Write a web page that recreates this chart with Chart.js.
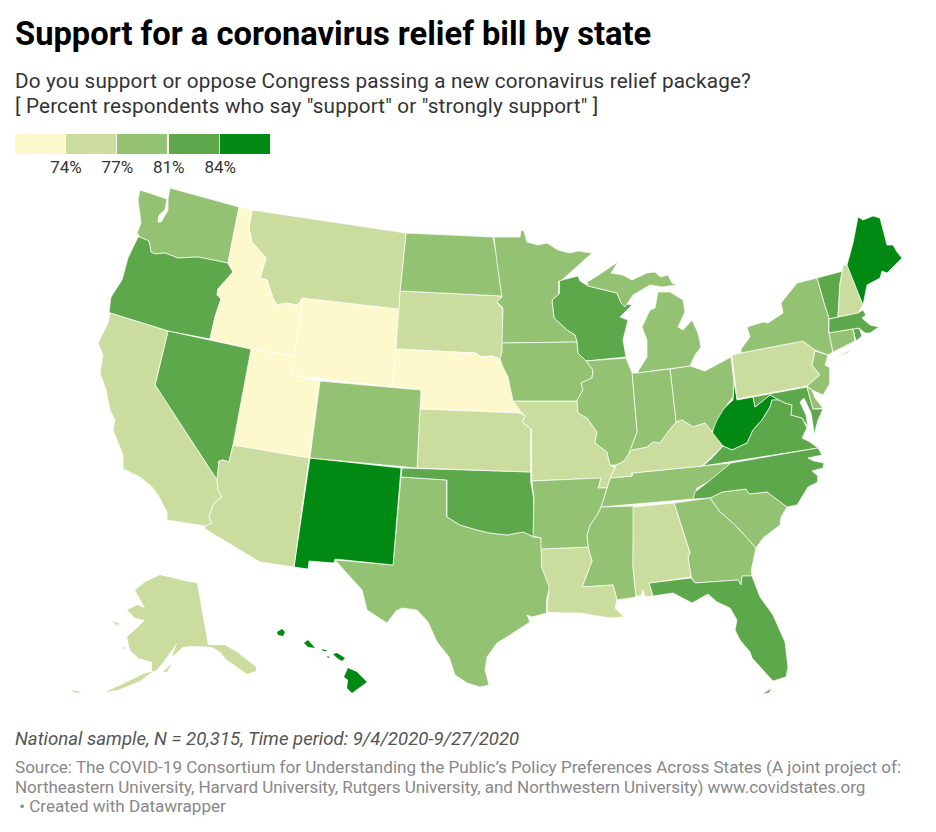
<!DOCTYPE html>
<html>
<head>
<meta charset="utf-8">
<title>Support for a coronavirus relief bill by state</title>
<script src="https://cdn.jsdelivr.net/npm/chart.js@4/dist/chart.umd.min.js"></script>
<style>
  html, body { margin: 0; padding: 0; background: #fff; }
  body { width: 936px; height: 832px; position: relative; overflow: hidden; font-family: Roboto, sans-serif; }
  .txt { position: absolute; left: 15px; white-space: nowrap; }
  #title { top: 15px; font-size: 32.7px; line-height: 38px; font-weight: 700; color: #000; }
  #sub1, #sub2 { font-size: 20.7px; line-height: 26px; color: #333; letter-spacing: 0.16px; }
  #sub1 { top: 68px; }
  #sub2 { top: 93px; }
  #note { top: 728px; font-size: 18.6px; line-height: 22px; font-style: italic; color: #555; }
  .src { font-size: 17.07px; line-height: 20px; color: #888; }
  #map { position: absolute; left: 0; top: 180px; }
  .swatch { position: absolute; top: 134px; height: 20px; width: 50px; }
  .tick { position: absolute; top: 157px; width: 60px; text-align: center; font-size: 17px; line-height: 20px; color: #333; }
</style>
</head>
<body>
<div class="txt" id="title">Support for a coronavirus relief bill by state</div>
<div class="txt" id="sub1">Do you support or oppose Congress passing a new coronavirus relief package?</div>
<div class="txt" id="sub2">[ Percent respondents who say "support" or "strongly support" ]</div>
<div id="legend"></div>
<canvas id="map" width="936" height="540"></canvas>
<div class="txt" id="note">National sample, N = 20,315, Time period: 9/4/2020-9/27/2020</div>
<div class="txt src" style="top:757px">Source: The COVID-19 Consortium for Understanding the Public’s Policy Preferences Across States (A joint project of:</div>
<div class="txt src" style="top:777px;letter-spacing:-0.07px">Northeastern University, Harvard University, Rutgers University, and Northwestern University) www.covidstates.org</div>
<div class="txt src" style="top:796px">&nbsp;• Created with Datawrapper</div>
<script>
// -------------------------
// Legend bins
// -------------------------
const binLabels = ["74%", "77%", "81%", "84%"];
const binBreaks = [74, 77, 81, 84];
const binColors = ["#fef9cc", "#cbdd9e", "#94c273", "#5ca84b", "#008a14"];

// -------------------------
// State values (percent support, estimated from the colour bins)
// -------------------------
const stateNames = ["Alabama","Alaska","Arizona","Arkansas","California","Colorado","Connecticut","Delaware","Florida","Georgia","Hawaii","Idaho","Illinois","Indiana","Iowa","Kansas","Kentucky","Louisiana","Maine","Maryland","Massachusetts","Michigan","Minnesota","Mississippi","Missouri","Montana","Nebraska","Nevada","New Hampshire","New Jersey","New Mexico","New York","North Carolina","North Dakota","Ohio","Oklahoma","Oregon","Pennsylvania","Rhode Island","South Carolina","South Dakota","Tennessee","Texas","Utah","Vermont","Virginia","Washington","West Virginia","Wisconsin","Wyoming"];
const stateSupport = [76,76,76,79,76,79,79,79,82,79,85,73,79,79,79,76,76,76,85,82,82,79,79,79,76,76,73,82,76,79,85,79,82,79,79,82,82,76,82,79,76,79,79,73,82,82,79,85,82,73];
// no neighbours, so no white outline eating into the small shapes
const islandStates = ["Alaska", "Hawaii"];

// -------------------------
// Outlines, in map units (one list per part of a state)
// -------------------------
const AL = [[[633,507],[674,503],[690,553],[688,557],[691,577],[649,583],[653,596],[645,597],[643,590],[641,596],[636,596],[633,567]]];
const AK = [
  [[197,583],[208,645],[225,645],[237,652],[256,667],[256,671],[247,674],[227,660],[220,652],[212,647],[192,646],[183,647],[172,657],[177,643],[167,657],[157,670],[143,674],[125,683],[105,692],[118,690],[140,681],[152,672],[152,662],[138,658],[130,650],[127,637],[137,628],[145,620],[135,618],[127,610],[137,605],[145,608],[135,590],[145,582],[160,575],[190,582]],
  [[163,672],[172,663],[167,672]],
  [[112,621],[120,624],[116,625]],
  [[122,647],[126,648],[123,649]],
  [[70,690],[82,692],[76,693]]
];
const AZ = [[[233,445],[309,458],[294,567],[260,562],[205,529],[205,526],[212,523],[209,517],[214,503],[222,497],[218,490],[217,480],[219,461],[223,460],[229,462]]];
const AR = [[[532,481],[601,478],[598,488],[607,488],[601,507],[597,515],[590,525],[587,535],[588,547],[541,549],[541,538],[533,536],[534,500]]];
const CA = [[[110,313],[168,331],[155,385],[217,480],[218,490],[222,497],[214,503],[209,517],[212,523],[205,526],[167,520],[167,512],[158,495],[152,487],[140,477],[123,469],[123,455],[113,430],[115,420],[110,410],[106,390],[100,373],[103,355],[98,343],[108,323]]];
const CO = [[[320,381],[421,390],[417,468],[310,458]]];
const CT = [[[829,333],[853,329],[855,341],[833,352]]];
const DE = [[[807,387],[812,390],[815,398],[823,408],[813,409]]];
const FL = [
  [[649,583],[691,578],[695,583],[738,580],[741,585],[742,576],[752,576],[760,597],[773,615],[785,642],[788,667],[786,677],[773,681],[762,669],[752,658],[750,652],[740,640],[735,630],[737,620],[730,608],[717,602],[708,594],[692,603],[673,593],[653,596]],
  [[762,694],[772,688],[769,693]]
];
const GA = [[[674,503],[710,498],[720,512],[735,525],[747,538],[756,548],[752,567],[752,576],[742,576],[741,585],[738,580],[695,583],[691,577],[688,557],[690,553]]];
const HI = [
  [[277,632],[282,629],[285,632],[283,636],[278,635]],
  [[304,643],[308,640],[315,648],[308,647]],
  [[322,649],[328,651],[323,651]],
  [[327,656],[330,657],[328,658]],
  [[333,654],[337,653],[345,658],[342,661],[337,658]],
  [[348,668],[357,672],[367,682],[352,693],[347,688],[348,680],[344,677]]
];
const ID = [[[239,207],[252,210],[249,228],[252,242],[266,258],[260,278],[267,280],[273,298],[277,305],[287,303],[297,305],[300,302],[302,307],[294,356],[251,349],[210,339],[215,317],[221,299],[217,295],[218,289],[233,272],[228,263]]];
const IL = [[[626,358],[632,373],[636,420],[637,432],[629,453],[624,461],[616,465],[610,465],[607,452],[595,443],[597,432],[587,418],[578,413],[577,400],[583,390],[581,383],[592,378],[593,370],[586,361]]];
const IN = [[[632,373],[637,373],[670,369],[676,422],[667,433],[660,443],[653,442],[647,447],[632,450],[629,453],[637,432]]];
const IA = [[[502,343],[577,342],[578,353],[586,361],[593,370],[592,378],[581,383],[583,390],[577,401],[513,401],[508,377],[503,367],[500,359],[502,352]]];
const KS = [[[420,409],[520,413],[525,416],[522,422],[531,429],[531,472],[417,468]]];
const KY = [[[610,478],[615,468],[616,465],[624,461],[629,453],[632,450],[647,447],[653,442],[660,443],[667,433],[676,422],[682,420],[693,427],[705,423],[712,432],[723,446],[702,466],[632,473],[632,476]]];
const LA = [[[541,549],[588,547],[592,561],[582,587],[613,585],[617,600],[615,608],[624,617],[610,618],[592,615],[580,613],[563,613],[547,612],[549,587],[542,568]]];
const ME = [[[847,265],[853,243],[858,217],[863,220],[873,216],[880,218],[887,245],[893,245],[897,252],[902,258],[897,263],[887,273],[882,271],[880,278],[867,285],[863,305]]];
const MD = [[[753,397],[807,387],[813,409],[823,409],[818,420],[814,435],[813,425],[811,413],[804,398],[800,402],[806,415],[808,427],[802,418],[791,415],[792,405],[785,403],[779,400],[770,395],[755,407]]];
const MA = [[[829,319],[858,313],[863,310],[866,315],[862,318],[870,325],[879,327],[870,333],[865,333],[859,328],[853,329],[829,333]]];
const MI = [
  [[587,282],[597,276],[618,262],[611,273],[623,275],[632,280],[647,273],[655,272],[660,277],[668,275],[672,283],[677,285],[662,287],[650,285],[633,295],[625,307],[621,303],[617,293],[588,286]],
  [[658,292],[670,292],[683,300],[685,312],[678,327],[683,330],[692,320],[698,333],[701,347],[695,355],[690,366],[637,373],[647,357],[647,340],[642,327],[650,310],[655,308],[657,297]]
];
const MN = [[[494,237],[520,237],[521,230],[524,231],[527,242],[538,245],[547,243],[558,250],[570,253],[578,251],[592,253],[562,280],[559,281],[559,294],[552,300],[554,318],[567,330],[575,335],[577,342],[502,343],[503,308],[497,302],[502,297],[497,263]]];
const MS = [[[601,507],[634,506],[633,567],[636,597],[617,600],[613,585],[582,587],[592,561],[588,547],[587,535],[590,525],[597,515]]];
const MO = [[[513,401],[577,401],[578,413],[587,418],[597,432],[595,443],[607,452],[610,465],[615,468],[610,478],[607,488],[598,488],[601,478],[532,481],[531,429],[522,422],[525,416],[522,413]]];
const MT = [[[252,210],[406,233],[400,291],[399,309],[302,298],[300,302],[297,305],[287,303],[277,305],[273,298],[267,280],[260,278],[266,258],[252,242],[249,228]]];
const NE = [[[396,349],[475,353],[482,357],[492,356],[500,359],[503,367],[508,377],[512,397],[522,413],[420,409],[421,390],[392,387]]];
const NV = [[[168,331],[251,349],[233,445],[229,462],[223,460],[219,461],[217,480],[155,385]]];
const NH = [[[843,265],[847,265],[863,305],[858,313],[838,317],[840,283]]];
const NJ = [[[815,351],[828,355],[825,365],[830,368],[830,383],[823,395],[812,390],[807,386],[820,375],[812,365]]];
const NM = [[[310,458],[401,468],[393,565],[335,559],[334,563],[309,561],[308,569],[294,567]]];
const NY = [
  [[741,349],[750,337],[747,327],[763,322],[768,323],[783,313],[781,303],[797,283],[817,278],[824,303],[829,318],[829,333],[833,352],[828,355],[815,350],[803,341],[741,353]],
  [[828,363],[853,348],[847,353],[832,360]]
];
const NC = [[[731,463],[818,448],[822,455],[808,458],[814,461],[824,463],[823,468],[812,471],[818,476],[818,482],[808,487],[797,505],[787,507],[767,492],[749,494],[746,489],[722,492],[710,498],[693,499],[695,492],[708,482]]];
const ND = [[[406,233],[493,237],[497,257],[499,275],[502,296],[400,291]]];
const OH = [[[670,369],[690,366],[705,371],[731,357],[734,383],[733,397],[723,410],[717,420],[712,432],[705,423],[693,427],[682,420],[676,422]]];
const OK = [[[402,468],[531,472],[531,483],[534,500],[534,537],[523,532],[507,535],[490,533],[477,530],[460,525],[447,517],[447,480],[401,477]]];
const OR = [[[138,237],[140,237],[149,241],[151,252],[155,254],[165,253],[178,258],[198,257],[228,263],[233,272],[218,289],[217,295],[221,299],[215,317],[210,339],[168,331],[110,313],[109,312],[111,297],[122,280],[128,258]]];
const PA = [[[732,355],[741,353],[803,341],[815,350],[812,365],[820,375],[807,386],[737,399]]];
const RI = [[[853,329],[859,328],[862,336],[856,341]]];
const SC = [[[710,498],[722,492],[746,489],[749,494],[767,492],[787,507],[781,517],[780,525],[763,538],[756,548],[747,538],[735,525],[720,512]]];
const SD = [[[400,291],[502,296],[497,303],[503,309],[503,343],[502,352],[500,359],[492,356],[482,357],[475,353],[396,349]]];
const TN = [[[610,478],[632,476],[632,473],[702,466],[731,463],[712,480],[697,488],[693,499],[601,507],[607,488]]];
const TX = [[[401,477],[447,480],[447,517],[460,525],[477,530],[490,533],[507,535],[523,532],[534,537],[541,538],[542,568],[550,586],[547,598],[547,613],[532,617],[527,615],[530,622],[510,635],[497,643],[487,657],[485,670],[489,685],[480,687],[467,683],[455,675],[449,657],[437,642],[428,622],[417,610],[402,608],[396,611],[387,623],[367,610],[362,590],[335,560],[393,565]]];
const UT = [[[251,349],[294,356],[292,375],[320,381],[309,458],[233,445]]];
const VT = [[[817,278],[843,271],[840,283],[838,317],[829,319],[824,303]]];
const VA = [[[779,400],[785,403],[792,405],[791,415],[802,418],[807,428],[802,438],[810,442],[818,448],[703,466],[712,458],[723,446],[732,450],[747,443],[753,430],[762,420],[770,407],[772,400]]];
const WA = [[[140,190],[155,195],[167,199],[165,210],[159,215],[158,222],[161,222],[164,217],[168,210],[168,199],[170,188],[239,207],[228,263],[198,257],[178,258],[165,253],[155,254],[151,252],[149,241],[140,237],[137,233],[141,223],[138,200]]];
const WV = [[[734,382],[737,400],[753,397],[755,407],[770,395],[779,400],[772,400],[770,407],[762,420],[753,430],[747,443],[732,450],[723,446],[712,435],[715,420],[722,410],[733,400]]];
const WI = [[[562,280],[578,276],[580,281],[588,286],[617,293],[621,303],[632,305],[620,317],[628,320],[623,340],[626,357],[586,361],[578,353],[577,342],[575,335],[567,330],[554,318],[552,300],[559,294],[559,281]]];
const WY = [[[302,298],[399,309],[396,349],[392,387],[291,375]]];

const stateOutlines = [AL,AK,AZ,AR,CA,CO,CT,DE,FL,GA,HI,ID,IL,IN,IA,KS,KY,LA,ME,MD,MA,MI,MN,MS,MO,MT,NE,NV,NH,NJ,NM,NY,NC,ND,OH,OK,OR,PA,RI,SC,SD,TN,TX,UT,VT,VA,WA,WV,WI,WY];

// -------------------------
// Helpers
// -------------------------
function binColor(value) {
  let i = 0;
  while (i < binBreaks.length && value >= binBreaks[i]) i++;
  return binColors[i];
}

function buildDatasets() {
  const sets = [];
  stateNames.forEach((name, s) => {
    const color = binColor(stateSupport[s]);
    stateOutlines[s].forEach(part => {
      const closed = part.concat([part[0]]);
      sets.push({
        label: name,
        data: closed.map(p => ({ x: p[0], y: p[1] })),
        showLine: true,
        fill: "shape",
        tension: 0,
        pointRadius: 0,
        borderWidth: islandStates.includes(name) ? 0 : 0.7,
        borderColor: "#ffffff",
        backgroundColor: color
      });
    });
  });
  return sets;
}

// -------------------------
// Legend
// -------------------------
const legend = document.getElementById("legend");
binColors.forEach((c, i) => {
  const box = document.createElement("div");
  box.className = "swatch";
  box.style.left = (15 + i * 51.2) + "px";
  box.style.background = c;
  legend.appendChild(box);
});
binLabels.forEach((t, i) => {
  const lab = document.createElement("div");
  lab.className = "tick";
  lab.style.left = (36 + i * 51.4) + "px";
  lab.textContent = t;
  legend.appendChild(lab);
});

// -------------------------
// Chart.js
// -------------------------
new Chart(document.getElementById("map").getContext("2d"), {
  type: "scatter",
  data: { datasets: buildDatasets() },
  options: {
    responsive: false,
    animation: false,
    events: [],
    layout: { padding: 0 },
    plugins: { legend: { display: false }, tooltip: { enabled: false }, title: { display: false } },
    scales: {
      x: { type: "linear", min: 0, max: 936, display: false },
      y: { type: "linear", min: 180, max: 720, reverse: true, display: false }
    }
  }
});
</script>
</body>
</html>
